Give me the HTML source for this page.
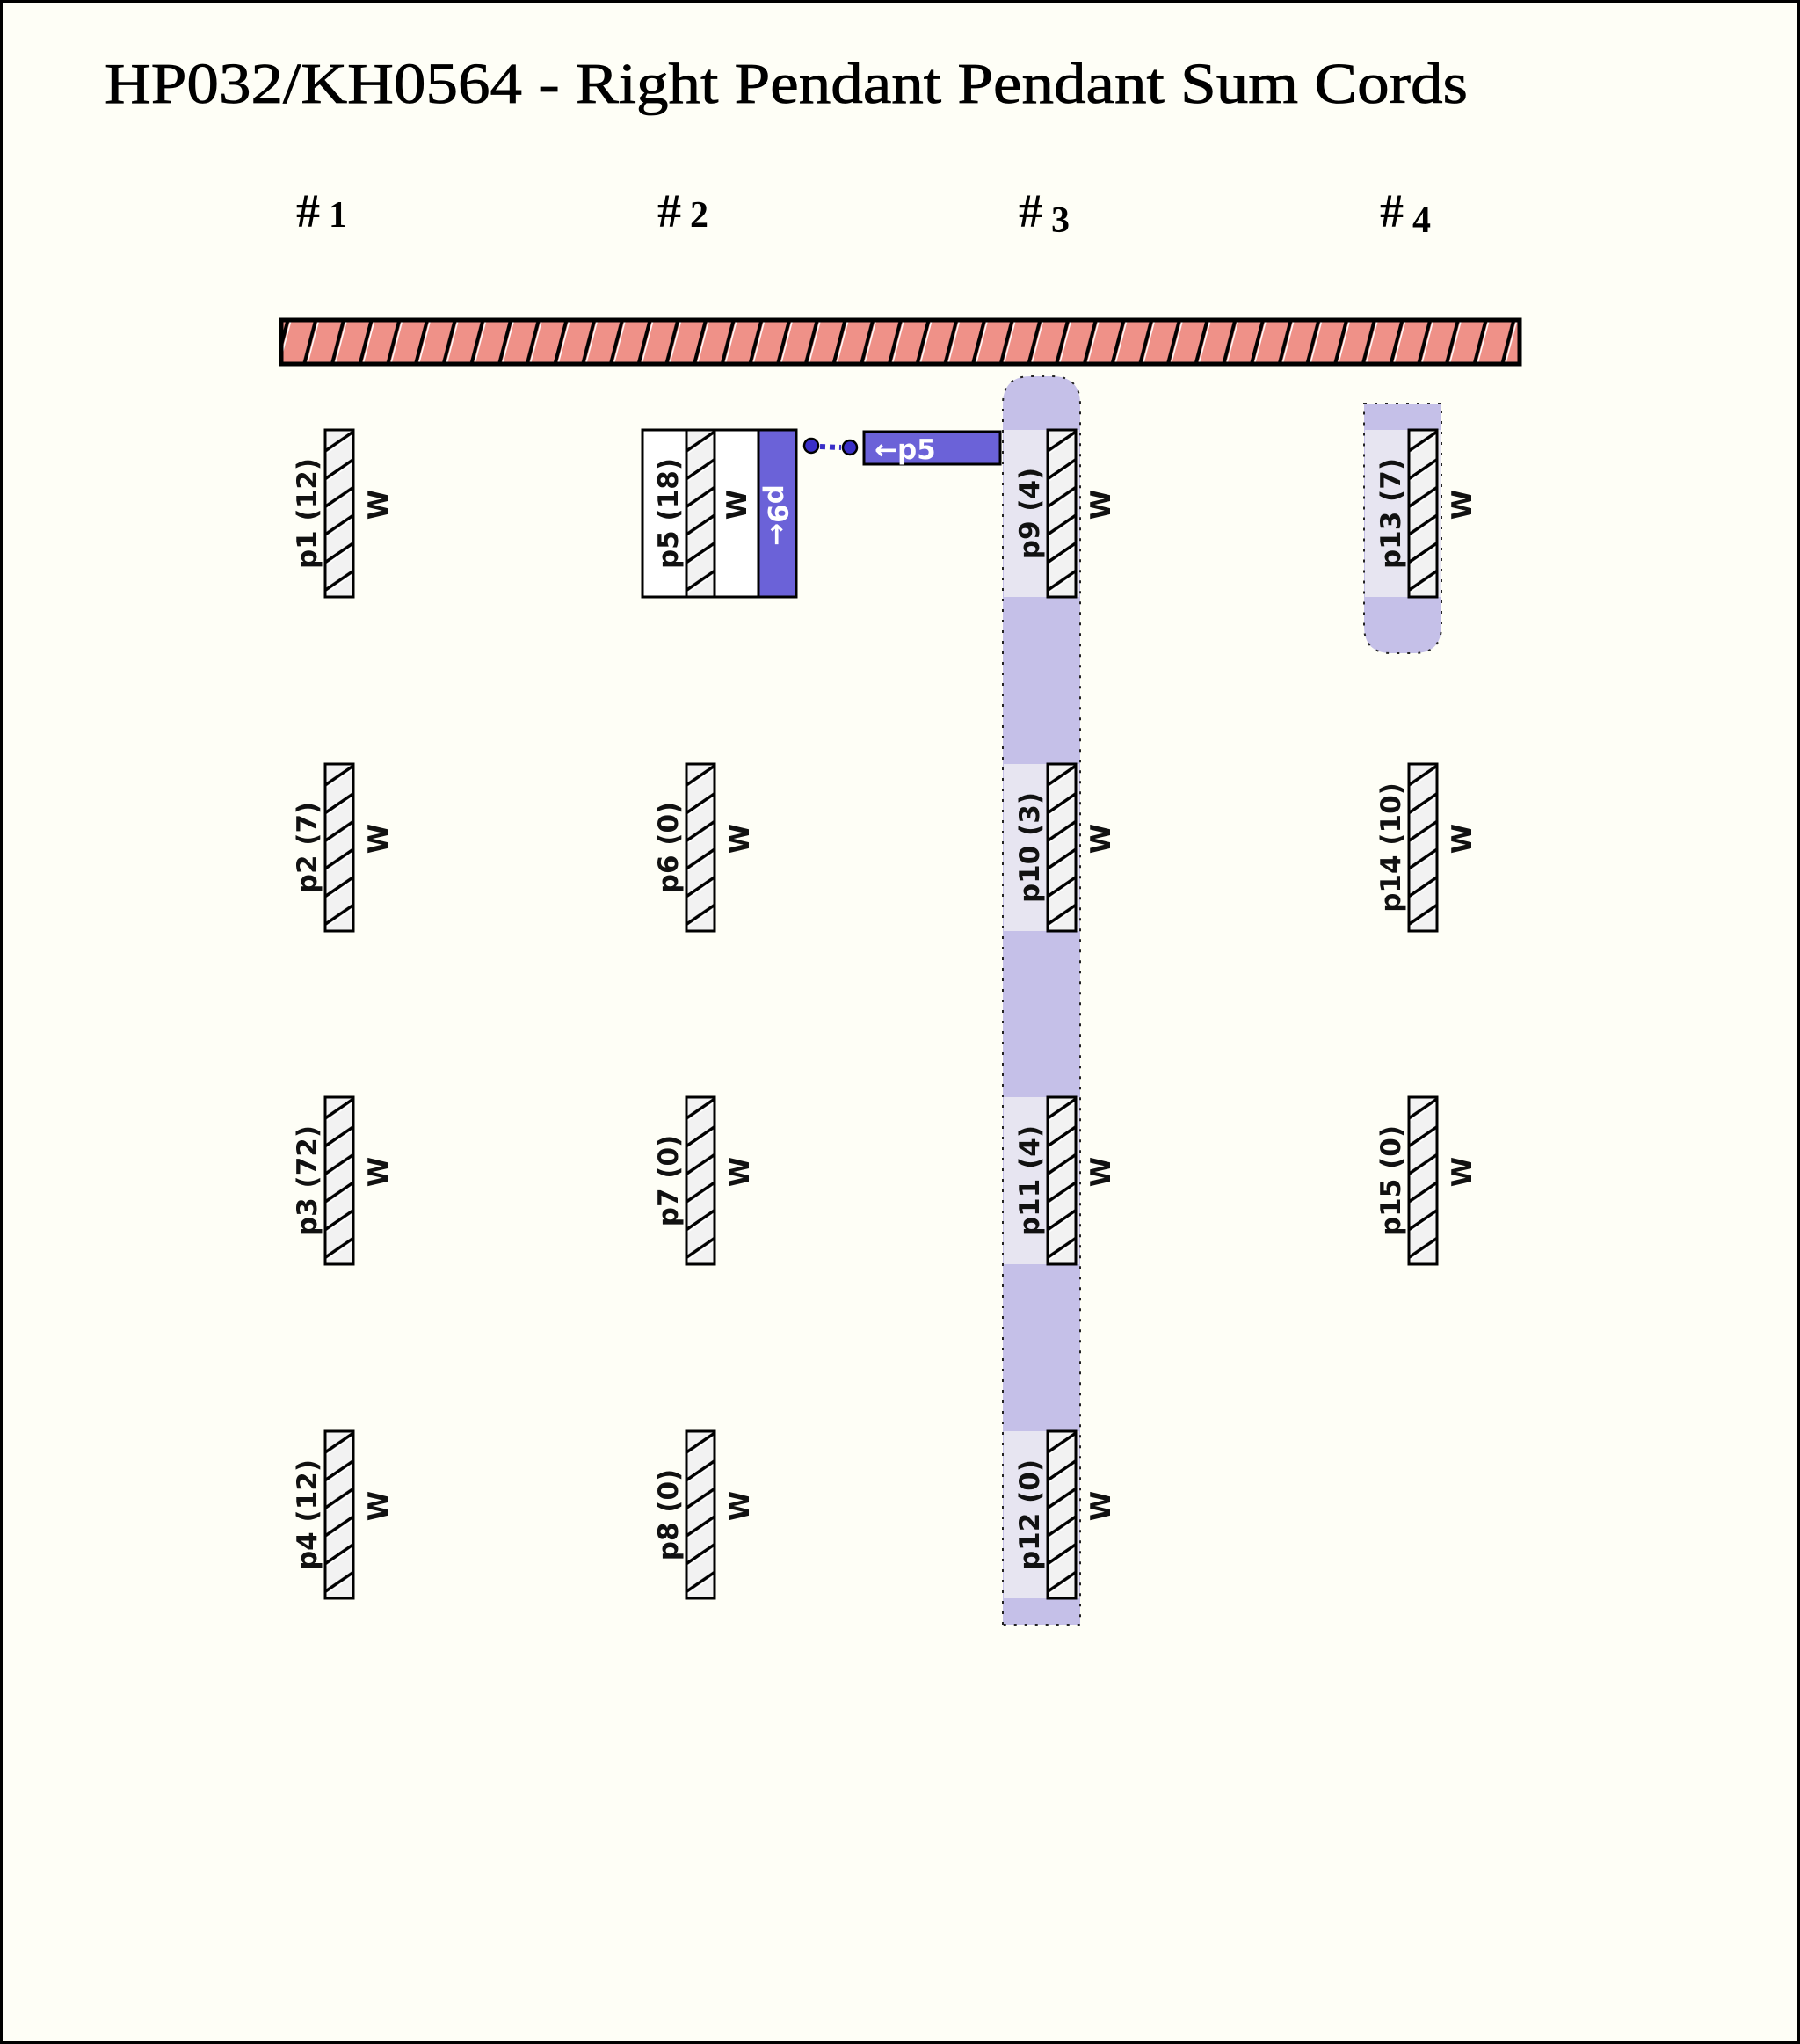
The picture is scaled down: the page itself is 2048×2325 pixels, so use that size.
<!DOCTYPE html>
<html><head><meta charset="utf-8"><style>
html,body{margin:0;padding:0;background:#fefef6}
svg{display:block}
.lab{font-family:"DejaVu Sans","Liberation Sans",sans-serif;font-weight:bold;font-size:31px;fill:#111}
</style></head><body>
<svg width="2048" height="2325" viewBox="0 0 2048 2325" xmlns="http://www.w3.org/2000/svg">
<defs>
<pattern id="bar" patternUnits="userSpaceOnUse" x="317" y="366" width="31.7" height="46">
<rect width="31.7" height="46" fill="#ef9188"/>
<path d="M-2,46 L10,0 M29.7,46 L41.7,0" stroke="#000" stroke-width="4"/>
<path d="M1.5,46 L13.5,0 M33.2,46 L45.2,0" stroke="#fff" stroke-width="1.5"/>
</pattern>
<pattern id="cord" patternUnits="objectBoundingBox" patternContentUnits="userSpaceOnUse" width="1" height="0.16667">
<rect width="32" height="31.67" fill="#f2f2f2"/>
<path d="M0,24 L32,2 M0,55.67 L32,33.67 M0,-7.67 L32,-29.67" stroke="#000" stroke-width="3.5"/>
<path d="M0,27.5 L32,5.5 M0,-4.17 L32,-26.17" stroke="#fff" stroke-width="1.5"/>
</pattern>
</defs>
<rect x="1.5" y="1.5" width="2045" height="2322" fill="#fefef6" stroke="#000" stroke-width="3"/>
<text x="119" y="117" font-family="Liberation Serif,serif" font-size="66" textLength="1551" lengthAdjust="spacingAndGlyphs" fill="#000" stroke="#000" stroke-width="0.8">HP032/KH0564 - Right Pendant Pendant Sum Cords</text>
<g font-family="Liberation Serif,serif" font-size="54" font-weight="bold" fill="#000">
<text x="337" y="258">#<tspan font-size="42" dx="10">1</tspan></text>
<text x="748" y="258">#<tspan font-size="42" dx="10">2</tspan></text>
<text x="1159" y="258">#<tspan font-size="42" dx="10" dy="6">3</tspan></text>
<text x="1570" y="258">#<tspan font-size="42" dx="10" dy="6">4</tspan></text>
</g>
<rect x="320" y="364" width="1409" height="50" fill="url(#bar)" stroke="#000" stroke-width="5"/>

<path d="M1141,1848 L1141,460 Q1141,428 1173,428 L1197,428 Q1229,428 1229,460 L1229,1848 Z" fill="#c5c0e8" stroke="#222" stroke-width="2" stroke-dasharray="3,9"/>
<path d="M1552,459 L1640,459 L1640,712 Q1640,743 1609,743 L1583,743 Q1552,743 1552,712 Z" fill="#c5c0e8" stroke="#222" stroke-width="2" stroke-dasharray="3,9"/>
<g fill="#e7e5f1">
<rect x="1142" y="489" width="86" height="190"/>
<rect x="1142" y="869" width="86" height="190"/>
<rect x="1142" y="1248" width="86" height="190"/>
<rect x="1142" y="1628" width="86" height="190"/>
<rect x="1553" y="489" width="86" height="190"/>
</g>

<rect x="731" y="489" width="50" height="190" fill="#fff" stroke="#000" stroke-width="3"/>
<rect x="813" y="489" width="50" height="190" fill="#fff" stroke="#000" stroke-width="3"/>
<rect x="863" y="489" width="43" height="190" fill="#6b62d8" stroke="#000" stroke-width="3"/>
<text class="lab" transform="translate(874,586) rotate(90)" text-anchor="middle" style="fill:#fff">p9←</text>
<circle cx="923" cy="507" r="8" fill="#3a2fc8" stroke="#000" stroke-width="2.5"/>
<circle cx="967" cy="509" r="8" fill="#3a2fc8" stroke="#000" stroke-width="2.5"/>
<line x1="933" y1="508" x2="957" y2="509" stroke="#3a2fc8" stroke-width="6" stroke-dasharray="6,5"/>
<rect x="983" y="491" width="155" height="37" fill="#6b62d8" stroke="#000" stroke-width="3"/>
<text x="995" y="522" font-family="DejaVu Sans,sans-serif" font-size="31" font-weight="bold" fill="#fff">←p5</text>

<g stroke="#000" stroke-width="3">
<rect x="370" y="489" width="32" height="190" fill="url(#cord)"/>
<rect x="370" y="869" width="32" height="190" fill="url(#cord)"/>
<rect x="370" y="1248" width="32" height="190" fill="url(#cord)"/>
<rect x="370" y="1628" width="32" height="190" fill="url(#cord)"/>
<rect x="781" y="489" width="32" height="190" fill="url(#cord)"/>
<rect x="781" y="869" width="32" height="190" fill="url(#cord)"/>
<rect x="781" y="1248" width="32" height="190" fill="url(#cord)"/>
<rect x="781" y="1628" width="32" height="190" fill="url(#cord)"/>
<rect x="1192" y="489" width="32" height="190" fill="url(#cord)"/>
<rect x="1192" y="869" width="32" height="190" fill="url(#cord)"/>
<rect x="1192" y="1248" width="32" height="190" fill="url(#cord)"/>
<rect x="1192" y="1628" width="32" height="190" fill="url(#cord)"/>
<rect x="1603" y="489" width="32" height="190" fill="url(#cord)"/>
<rect x="1603" y="869" width="32" height="190" fill="url(#cord)"/>
<rect x="1603" y="1248" width="32" height="190" fill="url(#cord)"/>
</g>
<g class="lab" text-anchor="middle">
<text transform="translate(360,584) rotate(-90)">p1 (12)</text>
<text transform="translate(360,964) rotate(-90)">p2 (7)</text>
<text transform="translate(360,1343) rotate(-90)">p3 (72)</text>
<text transform="translate(360,1723) rotate(-90)">p4 (12)</text>
<text transform="translate(771,584) rotate(-90)">p5 (18)</text>
<text transform="translate(771,964) rotate(-90)">p6 (0)</text>
<text transform="translate(771,1343) rotate(-90)">p7 (0)</text>
<text transform="translate(771,1723) rotate(-90)">p8 (0)</text>
<text transform="translate(1182,584) rotate(-90)">p9 (4)</text>
<text transform="translate(1182,964) rotate(-90)">p10 (3)</text>
<text transform="translate(1182,1343) rotate(-90)">p11 (4)</text>
<text transform="translate(1182,1723) rotate(-90)">p12 (0)</text>
<text transform="translate(1593,584) rotate(-90)">p13 (7)</text>
<text transform="translate(1593,964) rotate(-90)">p14 (10)</text>
<text transform="translate(1593,1343) rotate(-90)">p15 (0)</text>
<text transform="translate(441,574) rotate(-90)">W</text>
<text transform="translate(441,954) rotate(-90)">W</text>
<text transform="translate(441,1333) rotate(-90)">W</text>
<text transform="translate(441,1713) rotate(-90)">W</text>
<text transform="translate(849,574) rotate(-90)">W</text>
<text transform="translate(852,954) rotate(-90)">W</text>
<text transform="translate(852,1333) rotate(-90)">W</text>
<text transform="translate(852,1713) rotate(-90)">W</text>
<text transform="translate(1263,574) rotate(-90)">W</text>
<text transform="translate(1263,954) rotate(-90)">W</text>
<text transform="translate(1263,1333) rotate(-90)">W</text>
<text transform="translate(1263,1713) rotate(-90)">W</text>
<text transform="translate(1674,574) rotate(-90)">W</text>
<text transform="translate(1674,954) rotate(-90)">W</text>
<text transform="translate(1674,1333) rotate(-90)">W</text>
</g>
</svg>
</body></html>
